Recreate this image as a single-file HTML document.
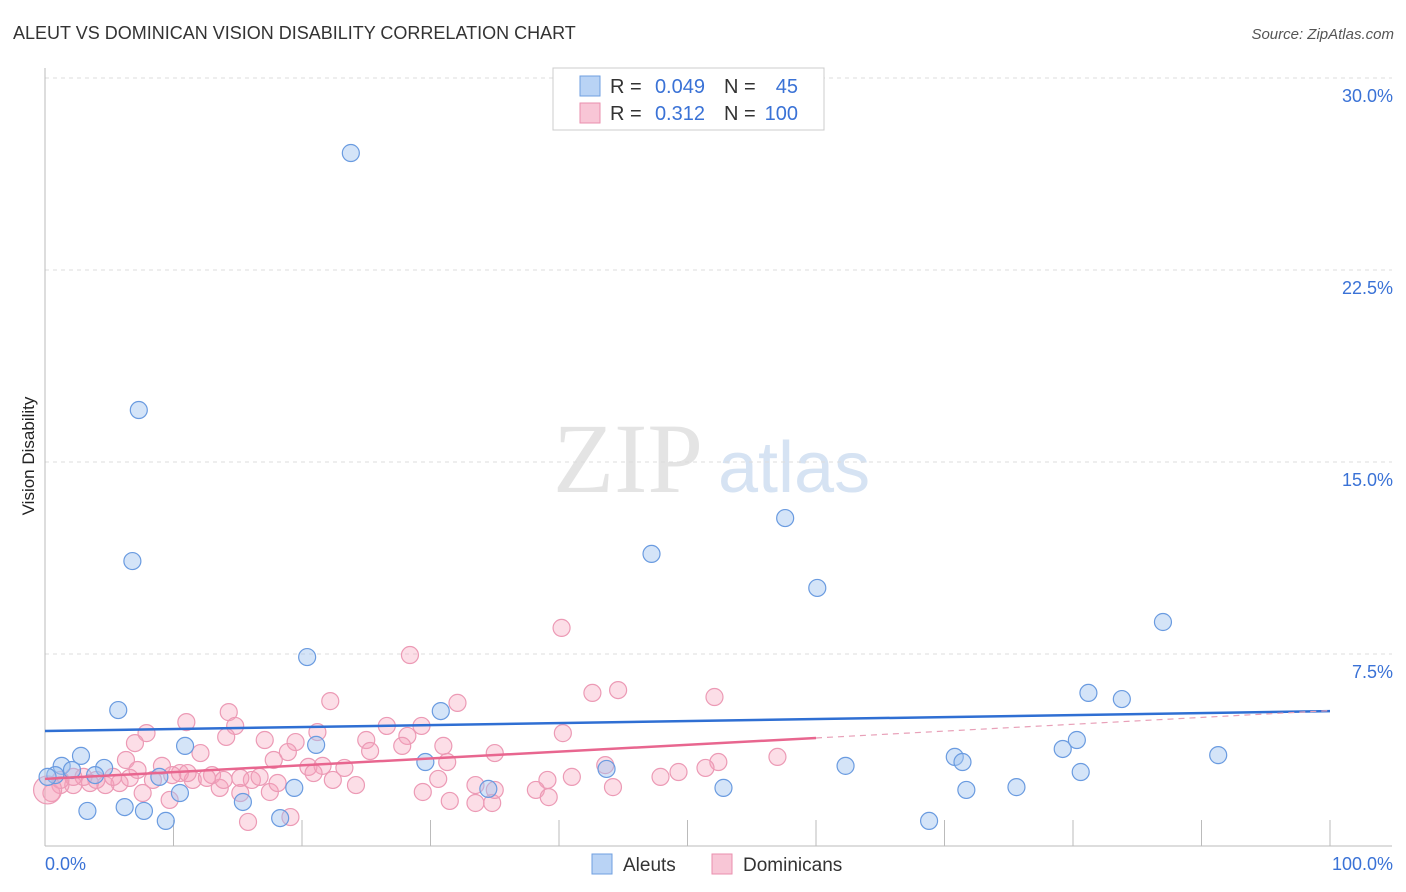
<!DOCTYPE html>
<html><head><meta charset="utf-8"><style>
body{margin:0;background:#fff;font-family:"Liberation Sans",sans-serif;}
svg{display:block}
</style></head><body>
<svg id="chart" width="1406" height="892">
<text x="13" y="39" font-size="18" fill="#333">ALEUT VS DOMINICAN VISION DISABILITY CORRELATION CHART</text>
<text x="1394" y="39" font-size="15" font-style="italic" fill="#555" text-anchor="end">Source: ZipAtlas.com</text>
<text transform="translate(34,456) rotate(-90)" font-size="17" fill="#222" text-anchor="middle">Vision Disability</text>
<g>
<text x="553" y="492" font-family="Liberation Serif,serif" font-size="100" fill="#e4e4e4">ZIP</text>
<text x="718" y="492" font-size="72" fill="#d6e3f3">atlas</text>
</g>
<g id="grid"></g>
<g id="axes"></g>
<g id="pts"></g>
<g id="trends"></g>
<g>
<rect x="553" y="68" width="271" height="62" fill="#fff" stroke="#ccc"/>
<rect x="580" y="76" width="20" height="20" fill="#b9d3f5" stroke="#6f9fe0"/>
<rect x="580" y="103" width="20" height="20" fill="#f8c6d6" stroke="#ea8fae"/>
<text x="610" y="93" font-size="20" fill="#333">R =</text>
<text x="705" y="93" font-size="20" fill="#3a72d6" text-anchor="end">0.049</text>
<text x="724" y="93" font-size="20" fill="#333">N =</text>
<text x="798" y="93" font-size="20" fill="#3a72d6" text-anchor="end">45</text>
<text x="610" y="120" font-size="20" fill="#333">R =</text>
<text x="705" y="120" font-size="20" fill="#3a72d6" text-anchor="end">0.312</text>
<text x="724" y="120" font-size="20" fill="#333">N =</text>
<text x="798" y="120" font-size="20" fill="#3a72d6" text-anchor="end">100</text>
</g>
<g>
<rect x="592" y="854" width="20" height="20" fill="#b9d3f5" stroke="#6f9fe0"/>
<text x="623" y="871" font-size="19" fill="#333">Aleuts</text>
<rect x="712" y="854" width="20" height="20" fill="#f8c6d6" stroke="#ea8fae"/>
<text x="743" y="871" font-size="19" fill="#333">Dominicans</text>
</g>
</svg>
<script>
const yTicks=[7.5,15,22.5,30];
const yTickLabels=["7.5%","15.0%","22.5%","30.0%"];
const xEndLabels=["0.0%","100.0%"];
const aleutX=[23.8,7.3,6.8,57.6,47.2,60.1,87.0,20.4,5.7,30.8,81.2,83.8,10.9,21.1,2.8,1.3,0.8,2.1,4.6,3.9,8.9,29.6,43.7,62.3,70.8,71.4,79.2,80.3,80.6,91.3,10.5,19.4,34.5,52.8,71.7,75.6,3.3,6.2,7.7,15.4,9.4,18.3,68.8,0.2];
const aleutY=[27.07,17.03,11.13,12.81,11.41,10.08,8.75,7.38,5.31,5.27,5.98,5.74,3.91,3.95,3.52,3.13,2.77,2.97,3.05,2.77,2.70,3.28,3.01,3.13,3.48,3.28,3.79,4.14,2.89,3.55,2.07,2.27,2.23,2.27,2.19,2.30,1.37,1.52,1.37,1.72,0.98,1.09,0.98,2.70];
const domX=[22.2,14.3,14.8,14.1,11.0,7.9,7.0,6.3,12.1,17.1,19.5,18.9,17.8,21.2,26.6,29.3,32.1,28.2,27.8,25.0,25.3,31.0,31.3,35.0,23.3,22.4,24.2,30.6,29.4,31.5,33.5,33.5,34.8,35.0,15.8,19.1,9.7,7.6,15.2,17.5,18.1,13.6,11.5,13.0,10.5,9.1,7.2,5.8,4.7,3.5,2.2,1.2,0.5,20.5,21.6,20.9,16.1,16.7,15.2,13.9,12.6,11.1,9.9,8.4,6.6,5.3,4.0,3.0,2.2,1.2,40.2,28.4,42.6,44.6,52.1,40.3,43.6,41.0,39.1,47.9,49.3,52.4,51.4,57.0,38.2,39.2,44.2,0.2];
const domY=[5.66,5.23,4.69,4.26,4.84,4.41,4.02,3.36,3.63,4.14,4.06,3.67,3.36,4.45,4.69,4.69,5.59,4.30,3.91,4.14,3.71,3.91,3.28,3.63,3.05,2.58,2.38,2.62,2.11,1.76,2.38,1.68,1.68,2.19,0.94,1.13,1.80,2.07,2.07,2.11,2.46,2.27,2.58,2.77,2.85,3.13,2.97,2.46,2.38,2.46,2.38,2.38,2.07,3.09,3.13,2.85,2.58,2.70,2.66,2.58,2.66,2.85,2.77,2.58,2.66,2.70,2.58,2.70,2.70,2.58,8.52,7.46,5.98,6.09,5.82,4.41,3.16,2.70,2.58,2.70,2.89,3.28,3.05,3.48,2.19,1.91,2.30,2.19];
const aleutTrend=[4.49,5.27];
const domTrend=[2.62,4.22,5.29];
const NS="http://www.w3.org/2000/svg";
const X=v=>45+v*12.85, Y=v=>846-v*25.6;
function mk(t,a,p){const e=document.createElementNS(NS,t);for(const k in a)e.setAttribute(k,a[k]);p.appendChild(e);return e;}
const grid=document.getElementById('grid'),axes=document.getElementById('axes'),pts=document.getElementById('pts'),tr=document.getElementById('trends');
yTicks.forEach((v,i)=>{
 const l=mk('line',{x1:45,x2:1392,y1:Y(v),y2:Y(v),stroke:'#ddd','stroke-dasharray':'4,4'},grid);
 
 
 const t=mk('text',{x:1393,y:Y(v)+24,'font-size':18,fill:'#3a72d6','text-anchor':'end'},grid);
 t.textContent=yTickLabels[i];
 
 
});
const ya=mk('line',{x1:45,x2:45,y1:68,y2:846,stroke:'#bbb'},axes);


const xa=mk('line',{x1:45,x2:1392,y1:846,y2:846,stroke:'#bbb'},axes);


for(let i=0;i<=10;i++){
 const tk=mk('line',{x1:X(i*10),x2:X(i*10),y1:820,y2:846,stroke:'#bbb'},axes);
 
 
}
const xl0=mk('text',{x:45,y:870,'font-size':18,fill:'#3a72d6'},axes);xl0.textContent=xEndLabels[0];


const xl1=mk('text',{x:1393,y:870,'font-size':18,fill:'#3a72d6','text-anchor':'end'},axes);xl1.textContent=xEndLabels[1];


domX.forEach((x,i)=>{
 const c=mk('circle',{cx:X(x),cy:Y(domY[i]),r:(i==domX.length-1)?14:8.5,fill:'rgba(245,160,185,0.35)',stroke:'#ec9ab5','stroke-width':1.2},pts);
 
 
});
aleutX.forEach((x,i)=>{
 const c=mk('circle',{cx:X(x),cy:Y(aleutY[i]),r:8.5,fill:'rgba(160,195,240,0.45)',stroke:'#6a9be0','stroke-width':1.2},pts);
 
 
});
const bl=mk('line',{x1:X(0),y1:Y(aleutTrend[0]),x2:X(100),y2:Y(aleutTrend[1]),stroke:'#2f6fd3','stroke-width':2.5},tr);


const pl=mk('line',{x1:X(0),y1:Y(domTrend[0]),x2:X(60),y2:Y(domTrend[1]),stroke:'#e8668f','stroke-width':2.5},tr);


const pd=mk('line',{x1:X(60),y1:Y(domTrend[1]),x2:X(100),y2:Y(domTrend[2]),stroke:'#e8a0b8','stroke-width':1.2,'stroke-dasharray':'6,5'},tr);


</script>
</body></html>
